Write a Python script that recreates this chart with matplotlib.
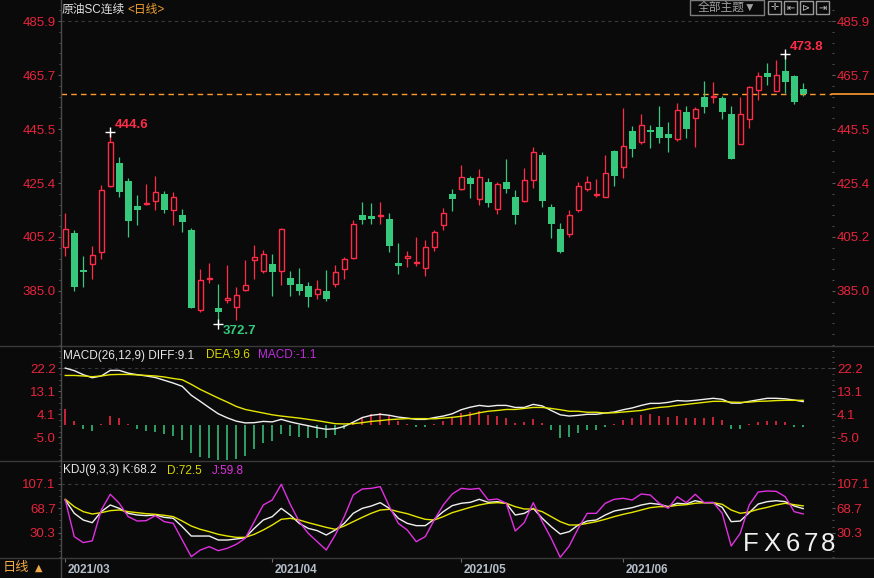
import numpy as np
import matplotlib.pyplot as plt
from matplotlib.ticker import FixedLocator, AutoMinorLocator, FormatStrFormatter
from matplotlib.lines import Line2D
from matplotlib.patches import Rectangle
import matplotlib.transforms as mtransforms

plt.rcParams['font.family'] = ['Liberation Sans', 'Noto Sans CJK SC', 'DejaVu Sans']

# daily candles, 2021/03 - 2021/06
opens = [401.6, 406.7, 392.9, 395.0, 399.5, 424.4, 432.9, 426.2, 416.8, 417.7,
         418.6, 421.3, 415.2, 413.4, 407.8, 378.0, 389.3, 378.6, 381.5, 378.9,
         385.3, 396.5, 392.4, 395.1, 392.4, 389.9, 387.6, 386.9, 384.0, 385.0,
         387.5, 393.4, 397.5, 413.3, 413.0, 413.2, 411.9, 395.5, 397.2, 395.4,
         393.5, 401.6, 409.6, 421.3, 423.0, 427.3, 419.3, 425.8, 415.6, 425.8,
         420.2, 418.5, 426.4, 435.9, 416.4, 408.2, 406.2, 415.2, 423.0, 420.8,
         420.3, 437.4, 431.5, 444.9, 440.9, 445.2, 446.2, 443.7, 442.0, 452.0,
         449.6, 457.5, 457.7, 457.1, 451.2, 440.1, 449.2, 460.1, 466.6, 459.9,
         467.3, 465.4, 460.6]
highs = [414.2, 407.7, 397.9, 401.8, 424.5, 444.6, 435.1, 427.2, 420.9, 425.0,
         428.0, 422.4, 422.0, 415.7, 408.6, 393.2, 395.5, 387.6, 394.7, 386.5,
         396.6, 402.2, 400.3, 398.8, 408.6, 392.5, 393.6, 388.4, 389.1, 392.9,
         394.7, 397.7, 411.6, 418.3, 418.1, 418.3, 414.2, 403.0, 400.0, 405.2,
         404.1, 407.8, 416.1, 423.2, 432.1, 428.0, 430.6, 427.3, 425.7, 434.4,
         422.8, 431.0, 438.9, 437.0, 417.6, 410.4, 415.3, 425.7, 428.0, 426.9,
         435.9, 437.8, 453.5, 446.7, 451.2, 447.1, 454.2, 448.1, 455.3, 454.2,
         453.8, 463.6, 463.2, 457.9, 454.2, 457.6, 461.7, 466.8, 470.3, 471.4,
         473.8, 465.8, 462.8]
lows = [397.9, 385.1, 386.3, 389.6, 396.9, 424.0, 420.3, 405.3, 409.8, 417.2,
        415.4, 414.3, 409.8, 407.2, 378.6, 377.3, 388.1, 372.7, 380.6, 374.3,
        385.1, 389.6, 391.9, 383.2, 387.4, 383.2, 383.6, 379.1, 382.1, 381.4,
        386.3, 389.6, 397.1, 410.2, 410.2, 410.2, 399.6, 391.5, 394.0, 394.5,
        390.7, 400.1, 408.0, 415.1, 422.9, 419.9, 417.3, 416.6, 413.9, 421.8,
        410.2, 418.4, 423.7, 416.6, 404.9, 399.2, 405.3, 414.7, 422.5, 420.3,
        420.2, 424.3, 427.3, 435.3, 440.1, 438.6, 440.5, 437.1, 441.2, 442.4,
        439.0, 451.7, 455.2, 449.5, 434.4, 440.0, 446.1, 456.6, 462.2, 459.8,
        459.2, 455.1, 458.1]
closes = [408.2, 386.3, 392.2, 398.4, 422.7, 440.6, 422.2, 411.3, 415.4, 417.9,
          422.0, 415.4, 420.0, 410.9, 378.8, 389.0, 389.9, 377.3, 382.3, 383.4,
          387.1, 397.6, 398.7, 392.2, 408.1, 387.4, 385.1, 382.9, 385.6, 382.1,
          392.0, 396.8, 409.9, 411.7, 411.9, 413.6, 401.8, 394.5, 398.0, 395.7,
          401.3, 406.9, 414.1, 419.5, 427.5, 425.2, 427.5, 418.1, 424.9, 423.3,
          413.6, 426.4, 436.9, 418.8, 410.2, 399.6, 413.3, 424.2, 425.7, 421.2,
          429.0, 428.2, 439.1, 438.1, 447.3, 444.5, 442.4, 442.4, 452.6, 445.7,
          453.0, 454.0, 457.9, 452.1, 434.5, 451.1, 461.2, 465.3, 465.2, 465.7,
          463.3, 455.7, 458.6]

# MACD(26,12,9)
diff = [22.3, 21.3, 19.7, 18.5, 19.2, 21.4, 21.4, 20.3, 19.7, 19.2,
        18.6, 17.5, 16.4, 15.1, 11.6, 9.2, 6.7, 4.3, 2.7, 1.4,
        0.7, 0.8, 1.3, 1.1, 2.1, 1.1, 0.3, -0.4, -1.2, -1.8,
        -1.6, -0.7, 1.0, 2.8, 3.7, 4.1, 3.7, 3.0, 2.6, 2.1,
        2.1, 2.8, 3.4, 4.3, 5.9, 6.9, 7.6, 7.2, 7.6, 7.6,
        6.8, 6.8, 8.0, 7.4, 5.6, 3.9, 3.4, 3.7, 4.1, 4.1,
        4.6, 5.0, 5.9, 6.6, 7.6, 8.4, 8.4, 8.8, 9.5, 9.3,
        9.6, 10.0, 10.4, 10.0, 8.5, 8.5, 9.2, 9.8, 10.4, 10.4,
        10.2, 9.7, 9.1]
dea = [19.4, 19.4, 19.2, 18.9, 19.2, 19.7, 19.8, 19.8, 19.6, 19.4,
       19.2, 18.8, 18.2, 17.7, 15.9, 13.9, 12.2, 10.5, 8.9, 7.2,
       6.0, 5.3, 4.6, 3.9, 3.4, 3.0, 2.6, 2.1, 1.6, 1.0,
       0.4, 0.3, 0.4, 0.8, 1.3, 1.6, 2.0, 2.2, 2.4, 2.4,
       2.4, 2.3, 2.6, 2.9, 3.3, 3.9, 4.7, 5.3, 5.6, 6.0,
       6.0, 6.4, 6.8, 6.8, 6.4, 5.9, 5.3, 5.3, 4.9, 4.9,
       4.6, 4.7, 5.0, 5.3, 5.6, 6.3, 6.8, 7.1, 7.6, 8.0,
       8.4, 8.8, 9.2, 9.2, 8.9, 8.8, 8.9, 9.2, 9.3, 9.5,
       9.6, 9.6, 9.6]
macd_hist = [6.2, 1.4, -1.6, -2.5, 0.3, 3.4, 2.6, 0.1, -1.6, -2.5,
             -2.9, -3.8, -4.3, -5.9, -11.0, -12.6, -13.0, -14.0, -14.0, -13.5,
             -12.2, -9.5, -7.2, -6.4, -3.7, -4.5, -4.7, -5.4, -5.4, -5.1,
             -4.0, -1.8, 1.0, 3.0, 4.3, 4.6, 3.4, 1.4, 0.3, -0.9,
             -0.9, 0.3, 1.6, 2.9, 4.6, 5.0, 5.4, 3.9, 3.4, 2.8,
             0.8, 1.0, 2.4, 0.8, -2.0, -5.1, -4.7, -3.2, -2.1, -2.1,
             -0.8, 0.1, 1.8, 2.8, 3.9, 4.3, 3.5, 3.1, 3.5, 2.8,
             2.8, 2.8, 3.0, 1.8, -1.6, -1.6, 0.1, 1.0, 1.4, 1.4,
             1.0, -0.9, -1.1]

# KDJ(9,3,3)
k_line = [81.8, 60.8, 50.2, 46.0, 63.4, 73.9, 68.6, 60.8, 58.1, 57.1,
          58.1, 54.4, 52.9, 39.7, 24.9, 24.9, 24.9, 18.6, 18.6, 20.2,
          22.3, 37.0, 50.2, 55.5, 68.6, 58.1, 44.9, 37.0, 33.4, 26.5,
          34.4, 44.9, 60.8, 68.6, 72.3, 77.6, 68.6, 52.9, 44.9, 41.3,
          41.3, 51.3, 63.4, 72.9, 76.6, 78.1, 82.9, 78.1, 79.2, 76.6,
          58.1, 60.7, 68.6, 52.9, 39.7, 28.1, 31.8, 42.3, 48.6, 50.2,
          58.1, 64.4, 67.1, 69.7, 73.9, 76.6, 75.0, 71.3, 76.6, 75.5,
          80.7, 77.6, 77.6, 70.2, 47.6, 48.6, 61.8, 75.5, 79.2, 80.7,
          79.2, 72.3, 68.2]
d_line = [82.9, 71.3, 63.4, 59.7, 61.8, 65.0, 66.0, 63.4, 61.8, 60.2,
          59.2, 57.6, 55.5, 48.6, 40.7, 35.5, 31.8, 27.6, 24.9, 22.8,
          22.8, 27.6, 34.4, 42.3, 51.3, 52.9, 50.2, 46.0, 42.3, 38.6,
          35.5, 40.7, 47.6, 54.4, 60.8, 66.0, 67.1, 63.4, 60.2, 55.5,
          51.3, 50.2, 55.5, 61.8, 66.0, 70.2, 73.9, 76.6, 77.6, 76.6,
          71.3, 67.6, 67.6, 63.4, 55.5, 47.6, 42.3, 42.3, 44.9, 47.6,
          51.3, 55.5, 59.2, 62.3, 66.0, 69.7, 71.3, 71.3, 73.4, 74.4,
          76.6, 77.6, 77.6, 75.0, 66.0, 60.8, 62.9, 67.1, 70.2, 73.9,
          76.6, 74.4, 72.5]
j_line = [81.8, 23.9, 14.5, 17.3, 66.0, 90.8, 76.6, 55.5, 48.6, 49.2,
          57.1, 47.6, 45.0, 18.6, -7.7, 2.8, 8.1, 1.8, 5.5, 11.8,
          21.3, 47.6, 73.9, 81.8, 106.6, 75.0, 47.6, 29.1, 16.0, 2.8,
          26.5, 55.5, 89.7, 99.2, 100.2, 102.9, 72.0, 45.0, 34.4, 16.0,
          23.9, 50.2, 73.9, 91.3, 100.2, 98.7, 100.2, 81.8, 83.4, 76.6,
          32.8, 46.0, 77.6, 47.6, 21.2, -8.8, 9.1, 37.0, 60.7, 60.7,
          76.6, 82.9, 84.5, 81.8, 91.3, 89.7, 76.6, 68.6, 87.1, 77.6,
          90.8, 77.6, 78.1, 60.7, 9.1, 29.1, 73.9, 94.5, 96.0, 95.5,
          87.1, 63.4, 59.8]

month_starts = [0, 23, 44, 62]
month_labels = ['2021/03', '2021/04', '2021/05', '2021/06']

price_ticks = [485.9, 465.7, 445.5, 425.4, 405.2, 385.0]
macd_ticks = [22.2, 13.1, 4.1, -5.0]
kdj_ticks = [107.1, 68.7, 30.3]

W, H = 874, 578
BG = '#0a0a0a'
UP = '#ff2c47'
DOWN = '#36c97e'
LABEL_RED = '#e8243c'
GRID = '#3a3a3a'
LEFT, RIGHT = 60.5, 832

fig = plt.figure(figsize=(W / 100, H / 100), dpi=100, facecolor=BG)


def fx(px):
    return px / W


def fy(py):
    return 1 - py / H


def make_pane(top, bottom, ylim, ticks, minor):
    ax = fig.add_axes([fx(LEFT), fy(bottom), (RIGHT - LEFT) / W, (bottom - top) / H],
                      facecolor=BG)
    ax.set_xlim(-0.53, 85.2)
    ax.set_ylim(*ylim)
    ax.yaxis.set_major_locator(FixedLocator(ticks))
    ax.yaxis.set_major_formatter(FormatStrFormatter('%.1f'))
    ax.yaxis.set_minor_locator(AutoMinorLocator(minor))
    ax.tick_params(axis='y', which='both', left=True, right=True, labelleft=True,
                   labelright=True, direction='out', color='#5a5a5a',
                   labelcolor=LABEL_RED, labelsize=9.5, pad=1)
    ax.tick_params(axis='y', which='major', length=2.5)
    ax.tick_params(axis='y', which='minor', length=1.2)
    ax.tick_params(axis='x', which='both', bottom=False, labelbottom=False)
    for s in ax.spines.values():
        s.set_visible(False)
    ax.axhline(ticks[0], color=GRID, lw=0.8, ls=(0, (3, 3)), zorder=0)
    return ax


x = np.arange(len(closes))
o = np.array(opens)
c = np.array(closes)
h = np.array(highs)
l = np.array(lows)
up = c >= o

# ---- price pane ----
ax_main = make_pane(0, 346, (364.4, 493.9), price_ticks, 5)
ax_main.vlines(x, l, h, colors=np.where(up, UP, DOWN), lw=0.9, zorder=2)
body_lo = np.minimum(o, c)
body_h = np.abs(c - o)
ax_main.bar(x[up], body_h[up], bottom=body_lo[up], width=0.6, facecolor=BG,
            edgecolor=UP, linewidth=1.0, zorder=3)
ax_main.bar(x[~up], body_h[~up], bottom=body_lo[~up], width=0.74, color=DOWN,
            linewidth=0, zorder=3)

ax_main.axhline(closes[-1], color='#ff9a2e', lw=1, ls=(0, (4, 3)), zorder=1)
ax_main.plot([1, 1.06], [closes[-1], closes[-1]], transform=ax_main.get_yaxis_transform(),
             color='#ff9a2e', lw=1.2, clip_on=False)

i_hi = int(np.argmax(h))
i_lo = int(np.argmin(l))
i_early = int(np.argmax(h[:30]))
for i, val, col, dy in [(i_early, highs[i_early], UP, 5),
                        (i_hi, highs[i_hi], UP, 5),
                        (i_lo, lows[i_lo], DOWN, -5)]:
    ax_main.plot(i, val, marker='+', color='white', ms=7, mew=1, zorder=5)
    ax_main.annotate('%.1f' % val, (i, val), xytext=(3, dy), textcoords='offset points',
                     color=col, fontsize=9.5, fontweight='bold', ha='left', va='center')

# ---- MACD pane ----
ax_macd = make_pane(346, 461, (-14.3, 31.0), macd_ticks, 4)
hist = np.array(macd_hist)
ax_macd.vlines(x, 0, hist, colors=np.where(hist >= 0, UP, DOWN), lw=1.1)
ax_macd.plot(x, diff, color='#f0f0f0', lw=1)
ax_macd.plot(x, dea, color='#e6e600', lw=1)

# ---- KDJ pane ----
ax_kdj = make_pane(461, 558, (-9.8, 143.4), kdj_ticks, 4)
ax_kdj.plot(x, k_line, color='#f0f0f0', lw=1)
ax_kdj.plot(x, d_line, color='#e6e600', lw=1)
ax_kdj.plot(x, j_line, color='#e030e0', lw=1)

ax_kdj.set_xticks(month_starts)
ax_kdj.set_xticklabels(month_labels)
ax_kdj.tick_params(axis='x', which='major', bottom=True, labelbottom=True, length=3,
                   color='#6a6a6a', labelcolor='#b4bec8', labelsize=8.5, pad=1.5)
shift = mtransforms.ScaledTranslation(2 / 72, 0, fig.dpi_scale_trans)
for lab in ax_kdj.get_xticklabels():
    lab.set_horizontalalignment('left')
    lab.set_fontweight('bold')
    lab.set_transform(lab.get_transform() + shift)

# ---- frame lines ----
for yy in (346, 461, 558):
    fig.add_artist(Line2D([0, 1], [fy(yy), fy(yy)], color='#3a3a3a', lw=1))
fig.add_artist(Line2D([fx(LEFT), fx(LEFT)], [0, 1], color='#4a4a4a', lw=1))

# ---- header texts ----
fig.text(fx(62), fy(9.5), '原油SC连续', color='#e0e0e0', fontsize=8.5, va='center')
fig.text(fx(127), fy(9.5), '<日线>', color='#f0a030', fontsize=8.5, va='center')

fig.text(fx(63), fy(355.5), 'MACD(26,12,9) DIFF:%.1f' % diff[-1], color='#e8e8e8',
         fontsize=8.5, va='center')
fig.text(fx(206), fy(355.5), 'DEA:%.1f' % dea[-1], color='#d8d800', fontsize=8.5, va='center')
fig.text(fx(258), fy(355.5), 'MACD:%.1f' % macd_hist[-1], color='#c02ce0', fontsize=8.5,
         va='center')

fig.text(fx(63), fy(470.5), 'KDJ(9,3,3) K:%.1f' % k_line[-1], color='#e8e8e8',
         fontsize=8.5, va='center')
fig.text(fx(167), fy(470.5), 'D:%.1f' % d_line[-1], color='#d8d800', fontsize=8.5, va='center')
fig.text(fx(212), fy(470.5), 'J:%.1f' % j_line[-1], color='#e030e0', fontsize=8.5, va='center')

fig.text(fx(3), fy(568), '日线', color='#f0a848', fontsize=9.5, va='center')
fig.text(fx(35), fy(568), '▲', color='#f0a848', fontsize=7, va='center',
         family='DejaVu Sans')

# toolbar top right
fig.add_artist(Rectangle((fx(690), fy(15)), 74 / W, 15 / H, fill=False,
                         edgecolor='#7c7c7c', lw=1))
fig.text(fx(727), fy(7.5), '全部主题▼', color='#a0a0a0', fontsize=8.5,
         ha='center', va='center')
for bx, glyph in zip([768, 784, 800, 816], ['✛', '⇤', '⊳', '⇥']):
    fig.add_artist(Rectangle((fx(bx), fy(14)), 13 / W, 13 / H, fill=False,
                             edgecolor='#9a9a9a', lw=1))
    fig.text(fx(bx + 6.5), fy(7.5), glyph, color='#c0c0c0', fontsize=7,
             ha='center', va='center', family='DejaVu Sans')

# watermark
for cx, ch in zip([751, 772, 793, 811, 828], 'FX678'):
    fig.text(fx(cx), fy(544), ch, color='#f0f0f0', fontsize=18.5, ha='center',
             va='center', family='Liberation Sans')

fig.savefig('out.png', dpi=100, facecolor=BG)
